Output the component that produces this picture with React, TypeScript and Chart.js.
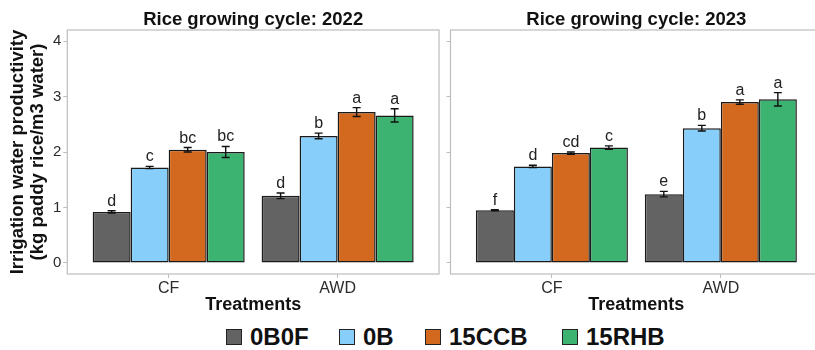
import React, { useEffect, useRef } from 'react';
import { Chart, registerables } from 'chart.js';
Chart.register(...registerables);

// ---------- data ----------
const categories = ['CF', 'AWD'];
const seriesNames = ['0B0F', '0B', '15CCB', '15RHB'];
const yTickValues = [0, 1, 2, 3, 4];

const mean2022_0B0F = [0.92, 1.21];
const mean2022_0B = [1.72, 2.29];
const mean2022_15CCB = [2.04, 2.72];
const mean2022_15RHB = [2.0, 2.66];
const err2022_0B0F = [0.02, 0.05];
const err2022_0B = [0.02, 0.05];
const err2022_15CCB = [0.04, 0.08];
const err2022_15RHB = [0.1, 0.12];
const letters2022_0B0F = ['d', 'd'];
const letters2022_0B = ['c', 'b'];
const letters2022_15CCB = ['bc', 'a'];
const letters2022_15RHB = ['bc', 'a'];

const mean2023_0B0F = [0.95, 1.24];
const mean2023_0B = [1.74, 2.43];
const mean2023_15CCB = [1.98, 2.9];
const mean2023_15RHB = [2.08, 2.95];
const err2023_0B0F = [0.01, 0.05];
const err2023_0B = [0.02, 0.05];
const err2023_15CCB = [0.02, 0.04];
const err2023_15RHB = [0.03, 0.12];
const letters2023_0B0F = ['f', 'e'];
const letters2023_0B = ['d', 'b'];
const letters2023_15CCB = ['cd', 'a'];
const letters2023_15RHB = ['c', 'a'];

const title2022 = 'Rice growing cycle: 2022';
const title2023 = 'Rice growing cycle: 2023';
const yTitle = ['Irrigation water productivity', '(kg paddy rice/m3 water)'];
const xTitle = 'Treatments';

// ---------- styles ----------
const colors = ['#636363', '#87CEFA', '#D2691E', '#3CB371'];
const FONT = "'Liberation Sans', Arial, sans-serif";
const CANVAS_H = 316;

function buildConfig(
  panelTitle: string,
  means: number[][],
  errs: number[][],
  letters: string[][],
  isLeft: boolean,
  canvasW: number
) {
  const panelPlugin = {
    id: 'panelDeco',
    beforeDatasetsDraw(chart: any) {
      const { ctx, chartArea: a } = chart;
      ctx.save();
      ctx.strokeStyle = '#bdbdbd';
      ctx.lineWidth = 1.2;
      ctx.strokeRect(a.left, a.top, a.right - a.left, a.bottom - a.top);
      ctx.restore();
    },
    afterDatasetsDraw(chart: any) {
      const { ctx, chartArea: a } = chart;
      const ys = chart.scales.y;
      chart.data.datasets.forEach((ds: any, d: number) => {
        const meta = chart.getDatasetMeta(d);
        meta.data.forEach((bar: any, j: number) => {
          const v = means[d][j];
          const e = errs[d][j];
          const x = bar.x;
          const yt = ys.getPixelForValue(v + e);
          const yb = ys.getPixelForValue(v - e);
          ctx.save();
          ctx.strokeStyle = '#111';
          ctx.lineWidth = 1.4;
          ctx.beginPath();
          ctx.moveTo(x, yt);
          ctx.lineTo(x, yb);
          ctx.moveTo(x - 4, yt);
          ctx.lineTo(x + 4, yt);
          ctx.moveTo(x - 4, yb);
          ctx.lineTo(x + 4, yb);
          ctx.stroke();
          ctx.fillStyle = '#222';
          ctx.font = `16px ${FONT}`;
          ctx.textAlign = 'center';
          ctx.textBaseline = 'alphabetic';
          ctx.fillText(letters[d][j], x, yt - 5);
          ctx.restore();
        });
      });
      ctx.save();
      ctx.fillStyle = '#111';
      ctx.font = `bold 18.5px ${FONT}`;
      ctx.textAlign = 'center';
      ctx.textBaseline = 'alphabetic';
      ctx.fillText(panelTitle, (a.left + a.right) / 2, 25);
      ctx.restore();
    },
  };

  const datasets = seriesNames.map((name, d) => ({
    label: name,
    data: categories.map((_, j) => ({ x: j + 1, y: means[d][j] })),
    backgroundColor: colors[d],
    borderColor: '#1a1a1a',
    borderWidth: 1.5,
    borderSkipped: false,
    categoryPercentage: 0.9,
    barPercentage: 1.0,
  }));

  const areaLeft = isLeft ? 67.3 : 5.5;
  const areaRight = isLeft ? 439 : 377.2;

  return {
    type: 'bar',
    data: { datasets },
    plugins: [panelPlugin],
    options: {
      animation: false,
      responsive: false,
      maintainAspectRatio: false,
      layout: { padding: { top: 30, left: 0, right: canvasW - areaRight, bottom: 0 } },
      plugins: { legend: { display: false }, title: { display: false }, tooltip: { enabled: false } },
      scales: {
        x: {
          type: 'linear',
          min: 0.4,
          max: 2.6,
          offset: false,
          bounds: 'data',
          afterBuildTicks: (s: any) => {
            s.ticks = categories.map((_, j) => ({ value: j + 1 }));
          },
          afterFit: (s: any) => {
            s.height = CANVAS_H - 274;
          },
          grid: { offset: false, drawOnChartArea: false, drawTicks: true, tickLength: 4, color: '#bdbdbd', lineWidth: 1 },
          border: { display: false },
          ticks: {
            padding: 1,
            color: '#2b2b2b',
            font: { family: FONT, size: 16 },
            maxRotation: 0,
            autoSkip: false,
            callback: (_v: any, i: number) => categories[i],
          },
          title: {
            display: true,
            text: xTitle,
            color: '#111',
            font: { family: FONT, size: 18, weight: 'bold', lineHeight: 1.2 },
            padding: { top: 0, bottom: 0 },
          },
        },
        y: {
          type: 'linear',
          min: -0.2,
          max: 4.2,
          bounds: 'data',
          afterBuildTicks: (s: any) => {
            s.ticks = yTickValues.map((v) => ({ value: v }));
          },
          afterFit: (s: any) => {
            s.width = areaLeft;
          },
          grid: { drawOnChartArea: false, drawTicks: true, tickLength: 4, color: '#bdbdbd', lineWidth: 1 },
          border: { display: false },
          ticks: {
            display: isLeft,
            padding: 2,
            color: '#2b2b2b',
            font: { family: FONT, size: 15 },
            callback: (v: any) => String(v),
          },
          title: {
            display: isLeft,
            text: yTitle,
            color: '#111',
            font: { family: FONT, size: 18.5, weight: 'bold', lineHeight: 1.05 },
            padding: { top: 8.3, bottom: 0 },
          },
        },
      },
    },
  };
}

function Panel(props: { left: number; width: number; config: () => any }) {
  const ref = useRef<HTMLCanvasElement>(null);
  useEffect(() => {
    const chart = new Chart(ref.current as HTMLCanvasElement, props.config());
    return () => chart.destroy();
  }, []);
  return (
    <div style={{ position: 'absolute', left: props.left, top: 0, width: props.width, height: CANVAS_H }}>
      <canvas ref={ref} width={props.width} height={CANVAS_H} style={{ width: props.width, height: CANVAS_H, display: 'block' }} />
    </div>
  );
}

const legendSquareLefts = [226, 339, 425, 562];

export default function App() {
  const leftW = 445;
  const rightW = 395;
  return (
    <div
      style={{
        position: 'fixed',
        left: 0,
        top: 0,
        width: 815,
        height: 350,
        overflow: 'hidden',
        background: '#fff',
        fontFamily: FONT,
      }}
    >
      <Panel
        left={0}
        width={leftW}
        config={() =>
          buildConfig(
            title2022,
            [mean2022_0B0F, mean2022_0B, mean2022_15CCB, mean2022_15RHB],
            [err2022_0B0F, err2022_0B, err2022_15CCB, err2022_15RHB],
            [letters2022_0B0F, letters2022_0B, letters2022_15CCB, letters2022_15RHB],
            true,
            leftW
          )
        }
      />
      <Panel
        left={445}
        width={rightW}
        config={() =>
          buildConfig(
            title2023,
            [mean2023_0B0F, mean2023_0B, mean2023_15CCB, mean2023_15RHB],
            [err2023_0B0F, err2023_0B, err2023_15CCB, err2023_15RHB],
            [letters2023_0B0F, letters2023_0B, letters2023_15CCB, letters2023_15RHB],
            false,
            rightW
          )
        }
      />
      {seriesNames.map((name, i) => (
        <React.Fragment key={name}>
          <div
            style={{
              position: 'absolute',
              left: legendSquareLefts[i],
              top: 329,
              width: 14,
              height: 14,
              background: colors[i],
              border: '1.5px solid #222',
            }}
          />
          <div
            style={{
              position: 'absolute',
              left: legendSquareLefts[i] + 24,
              top: 325,
              height: 24,
              lineHeight: '24px',
              fontSize: 24,
              fontWeight: 'bold',
              color: '#111',
              whiteSpace: 'nowrap',
            }}
          >
            {name}
          </div>
        </React.Fragment>
      ))}
    </div>
  );
}
